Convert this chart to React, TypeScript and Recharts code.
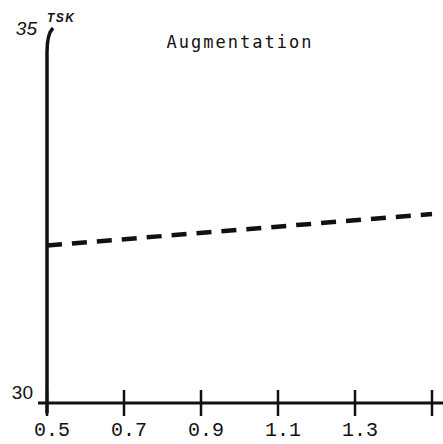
import React from 'react';
import { Customized, Line, LineChart, ReferenceLine, XAxis, YAxis } from 'recharts';

// Data
const ratios = [0.5, 1.5];
const tskValues = [32.1, 32.52];
const xTicks = [0.5, 0.7, 0.9, 1.1, 1.3, 1.5];
const xTickLabels = ['0.5', '0.7', '0.9', '1.1', '1.3', ''];
const yTicks = [30, 35];

const data = ratios.map((r, i) => ({ x: r, tsk: tskValues[i] }));

const ink = '#111';
const mono = '"Liberation Mono", "DejaVu Sans Mono", monospace';
const sans = '"Liberation Sans", Arial, sans-serif';

const XTick = (props: any) => {
  const { x, y, index } = props;
  return (
    <g>
      <line x1={x} x2={x} y1={y - 13} y2={y + 13} stroke={ink} strokeWidth={2.5} />
      <text x={x + 5} y={y + 33} textAnchor="middle" fontFamily={mono} fontSize={20} fill={ink}>
        {xTickLabels[index]}
      </text>
    </g>
  );
};

const YTick = (props: any) => {
  const { x, y, payload } = props;
  if (payload.value === 35) {
    return (
      <g>
        <text x={x - 10} y={y + 7} textAnchor="end" fontFamily={sans} fontStyle="italic" fontSize={19} fill={ink}>
          35
        </text>
        <text x={x} y={y - 6} fontFamily={sans} fontStyle="italic" fontWeight="bold" fontSize={12} letterSpacing={1.5} fill={ink}>
          TSK
        </text>
        <path d={`M ${x} ${y + 24} Q ${x} ${y + 6} ${x + 6} ${y}`} fill="none" stroke={ink} strokeWidth={3.5} />
      </g>
    );
  }
  return (
    <text x={x - 14} y={y - 4} textAnchor="end" fontFamily={sans} fontSize={19} fill={ink}>
      {payload.value}
    </text>
  );
};

const Title = () => (
  <text x={240} y={48} textAnchor="middle" fontFamily='"DejaVu Sans Mono", monospace' fontSize={17} letterSpacing={2} fill={ink}>
    Augmentation
  </text>
);

export default function App() {
  return (
    <div style={{ position: 'absolute', left: 0, top: 0, background: '#fff' }}>
      <LineChart width={443} height={444} data={data} margin={{ top: 28, right: 11, bottom: 0, left: 0 }}>
        <XAxis
          dataKey="x"
          type="number"
          domain={[0.5, 1.5]}
          ticks={xTicks}
          height={41}
          axisLine={false}
          tickLine={false}
          tickSize={0}
          tickMargin={0}
          tick={<XTick />}
          interval={0}
        />
        <YAxis
          type="number"
          domain={[30, 35]}
          ticks={yTicks}
          width={47}
          axisLine={false}
          tickLine={false}
          tickSize={0}
          tickMargin={0}
          tick={<YTick />}
        />
        <ReferenceLine
          segment={[{ x: 0.4766, y: 30 }, { x: 1.5286, y: 30 }]}
          stroke={ink}
          strokeWidth={3}
          ifOverflow="visible"
        />
        <ReferenceLine
          segment={[{ x: 0.5, y: 29.86 }, { x: 0.5, y: 34.68 }]}
          stroke={ink}
          strokeWidth={3.5}
          ifOverflow="visible"
        />
        <Line
          dataKey="tsk"
          stroke={ink}
          strokeWidth={4.5}
          strokeDasharray="15 10"
          dot={false}
          isAnimationActive={false}
        />
        <Customized component={Title} />
      </LineChart>
    </div>
  );
}
